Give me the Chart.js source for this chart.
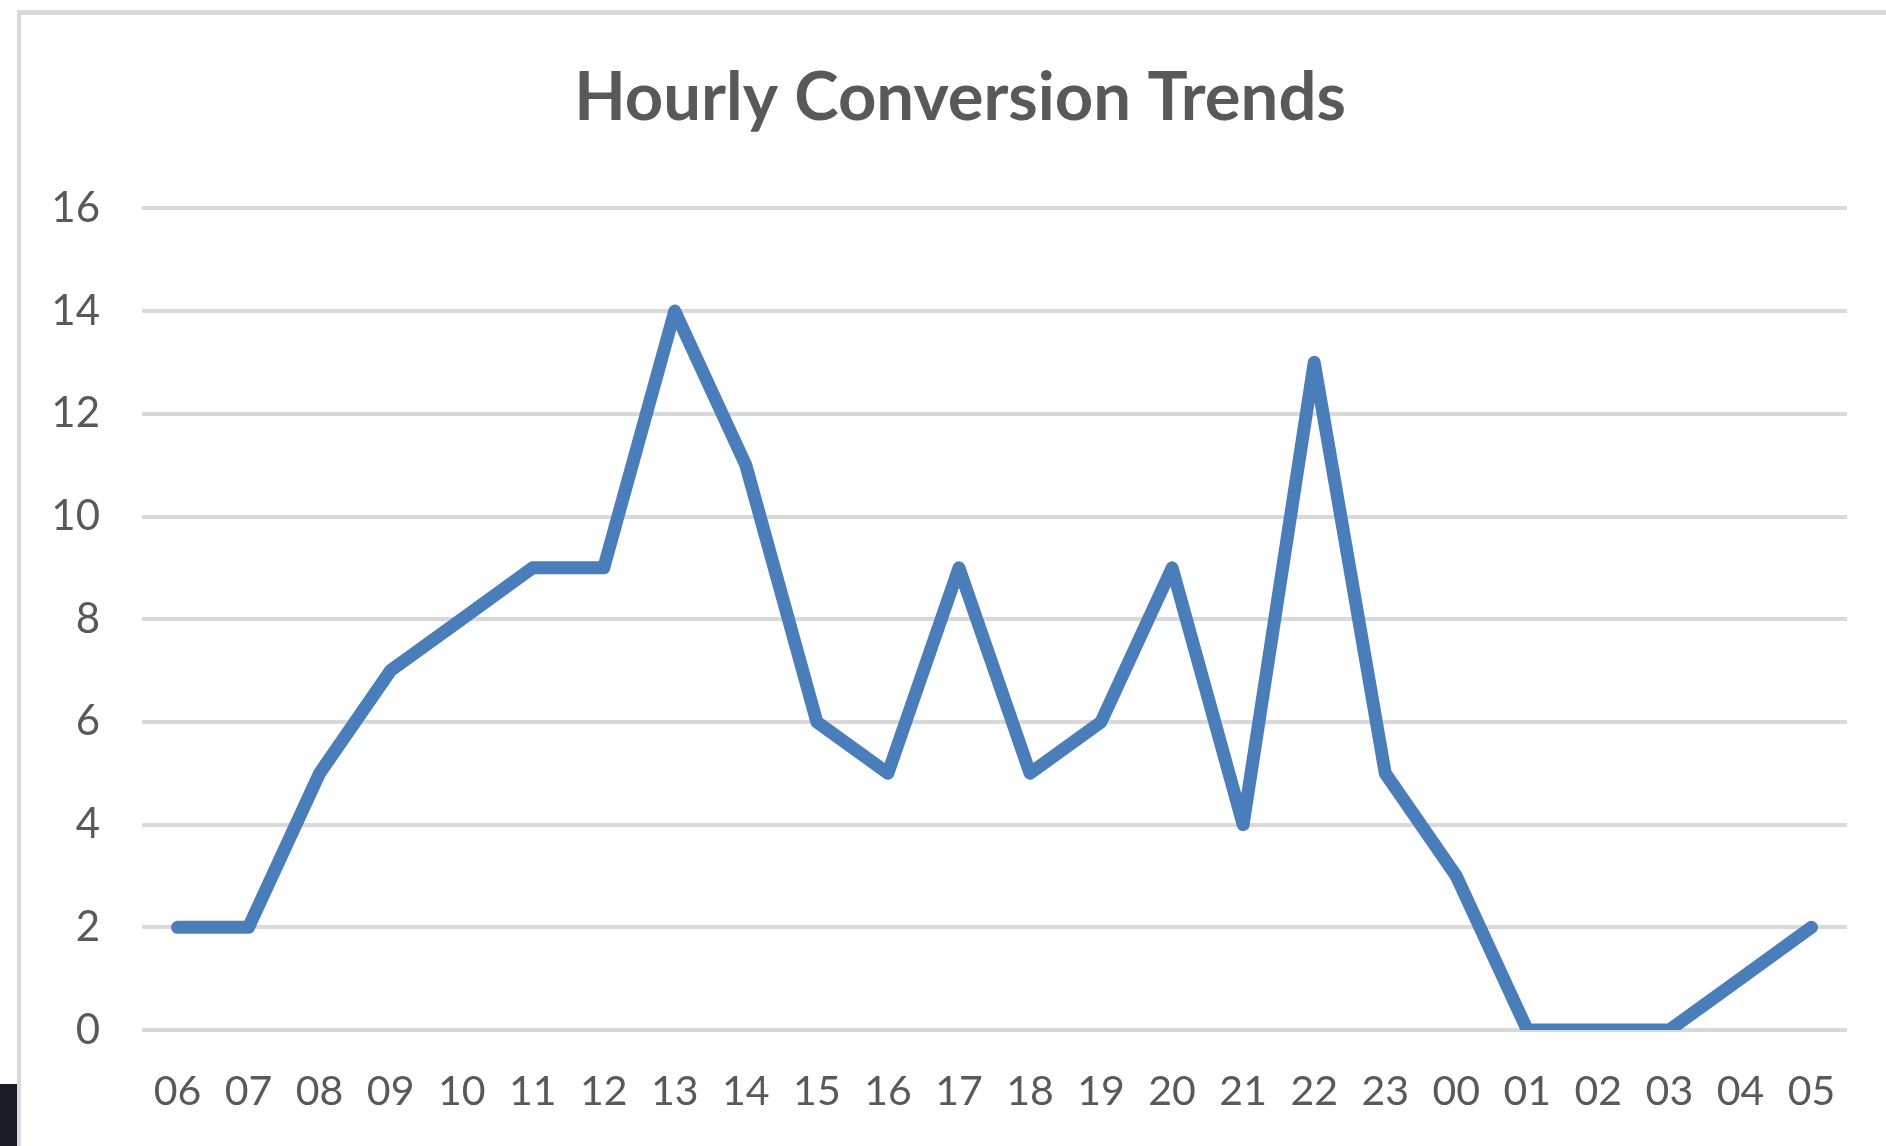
<!DOCTYPE html>
<html>
<head>
<meta charset="utf-8">
<title>Hourly Conversion Trends</title>
<script src="https://cdn.jsdelivr.net/npm/chart.js@4"></script>
<style>
    html, body {
        margin: 0;
        padding: 0;
        background: #ffffff;
        overflow: hidden;
    }
    .frame {
        position: absolute;
        left: 17px;
        top: 10px;
        width: 1920px;
        height: 1200px;
        border-left: 4px solid #d9d9d9;
        border-top: 5px solid #d9d9d9;
    }
    .corner {
        position: absolute;
        left: 0;
        top: 1084px;
        width: 17px;
        height: 62px;
        background: #1a1b26;
    }
    #chartWrap {
        position: absolute;
        left: 0;
        top: 0;
        width: 1920px;
        height: 1146px;
    }
</style>
</head>
<body>
<div class="frame"></div>
<div class="corner"></div>
<div id="chartWrap"><canvas id="trendChart" width="1920" height="1146"></canvas></div>

<script>
// Data
const hours = ['06', '07', '08', '09', '10', '11', '12', '13', '14', '15', '16', '17',
               '18', '19', '20', '21', '22', '23', '00', '01', '02', '03', '04', '05'];
const conversions = [2, 2, 5, 7, 8, 9, 9, 14, 11, 6, 5, 9,
                     5, 6, 9, 4, 13, 5, 3, 0, 0, 0, 1, 2];
const yTicks = [0, 2, 4, 6, 8, 10, 12, 14, 16];

const textColor = '#595959';
const gridColor = '#d9d9d9';

// Chart
const ctx = document.getElementById('trendChart').getContext('2d');
new Chart(ctx, {
    type: 'line',
    data: {
        labels: hours,
        datasets: [{
            label: 'Conversions',
            data: conversions,
            borderColor: '#4a7ebb',
            borderWidth: 13,
            borderJoinStyle: 'round',
            borderCapStyle: 'round',
            pointRadius: 0,
            tension: 0,
            fill: false
        }]
    },
    options: {
        responsive: false,
        animation: false,
        layout: {
            padding: 0
        },
        plugins: {
            legend: { display: false },
            tooltip: { enabled: false },
            title: {
                display: true,
                text: 'Hourly Conversion Trends',
                color: textColor,
                font: { family: 'Lato', size: 67, weight: 'bold' },
                padding: { top: 58, bottom: 70 }
            }
        },
        scales: {
            x: {
                offset: true,
                grid: { display: false, drawTicks: false },
                border: { display: false },
                ticks: {
                    color: textColor,
                    font: { family: 'Lato', size: 41 },
                    padding: 37,
                    maxRotation: 0,
                    autoSkip: false
                },
                afterFit: (scale) => { scale.height = 116; }
            },
            y: {
                min: yTicks[0],
                max: yTicks[yTicks.length - 1],
                afterBuildTicks: (scale) => {
                    scale.ticks = yTicks.map(v => ({ value: v }));
                },
                grid: { color: gridColor, lineWidth: 4, drawTicks: false },
                border: { display: false },
                ticks: {
                    color: textColor,
                    font: { family: 'Lato', size: 42 },
                    padding: 42
                },
                afterFit: (scale) => { scale.width = 142; }
            },
            // empty right axis, only keeps the plot clear of the right edge
            yRight: {
                position: 'right',
                min: yTicks[0],
                max: yTicks[yTicks.length - 1],
                grid: { display: false, drawTicks: false },
                border: { display: false },
                ticks: { display: false },
                afterFit: (scale) => { scale.width = 73; }
            }
        }
    }
});
</script>
</body>
</html>
